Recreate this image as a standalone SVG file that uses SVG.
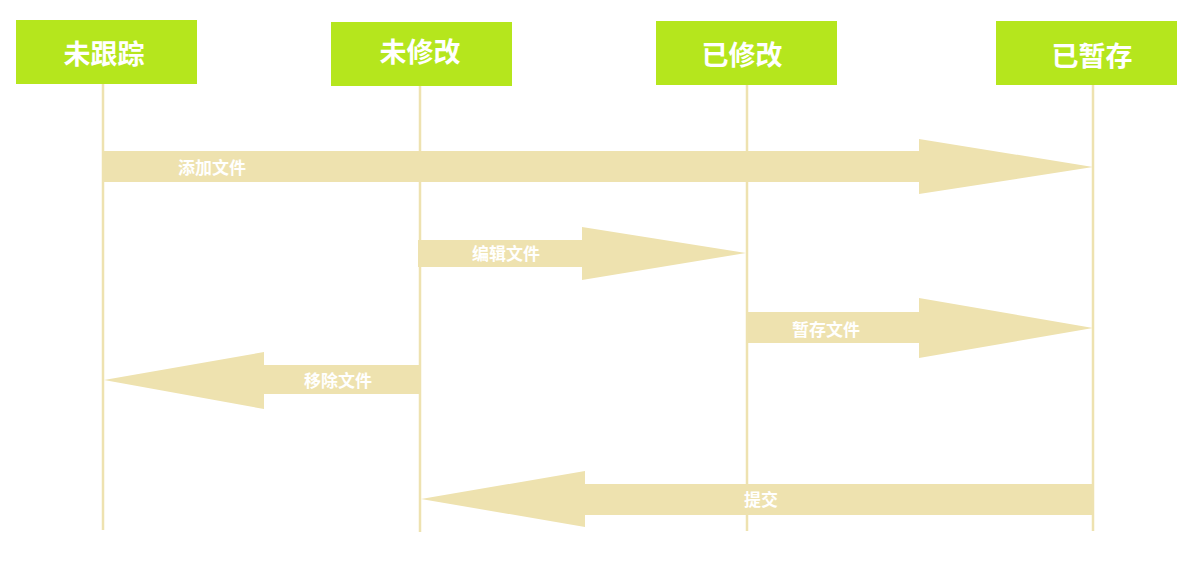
<svg xmlns="http://www.w3.org/2000/svg" width="1200" height="578" viewBox="0 0 1200 578">
<style>
.box{fill:#B5E61D}
.htxt{font-family:"Noto Sans CJK SC","Noto Sans",sans-serif;font-size:27px;font-weight:bold;fill:#FFFFFF;text-anchor:middle;dominant-baseline:central}
.life{stroke:#EEE2B0;stroke-width:2.5;fill:none}
.arr{fill:#EEE2AF}
.ltxt{font-family:"Noto Sans CJK SC","Noto Sans",sans-serif;font-size:17px;font-weight:bold;fill:#FFFFFF;text-anchor:middle;dominant-baseline:central}
</style>
<rect width="1200" height="578" fill="#FFFFFF"/>
<g id="lifelines">
<line class="life" x1="103" y1="84" x2="103" y2="530"/>
<line class="life" x1="420" y1="86" x2="420" y2="532"/>
<line class="life" x1="747" y1="85" x2="747" y2="531"/>
<line class="life" x1="1093" y1="85" x2="1093" y2="531"/>
</g>
<g id="node-untracked">
<rect class="box" x="16" y="20" width="181" height="64"/>
<text class="htxt" x="104" y="52">未跟踪</text>
</g>
<g id="node-unmodified">
<rect class="box" x="331" y="22" width="181" height="64"/>
<text class="htxt" x="420" y="50">未修改</text>
</g>
<g id="node-modified">
<rect class="box" x="656" y="21" width="181" height="64"/>
<text class="htxt" x="742" y="53">已修改</text>
</g>
<g id="node-staged">
<rect class="box" x="996" y="21" width="181" height="64"/>
<text class="htxt" x="1092" y="54">已暂存</text>
</g>
<g id="connectors">
<g id="c-add">
<polygon class="arr" points="103,151 919,151 919,139 1093,167 919,194 919,182 103,182"/>
<text class="ltxt" x="212" y="166">添加文件</text>
</g>
<g id="c-edit">
<polygon class="arr" points="418,240 582,240 582,227 746,253 582,280 582,267 418,267"/>
<text class="ltxt" x="506" y="252">编辑文件</text>
</g>
<g id="c-stage">
<polygon class="arr" points="746,312 919,312 919,298 1093,328 919,358 919,343 746,343"/>
<text class="ltxt" x="826" y="328">暂存文件</text>
</g>
<g id="c-remove">
<polygon class="arr" points="420,365 264,365 264,352 104,380 264,409 264,394 420,394"/>
<text class="ltxt" x="338" y="379">移除文件</text>
</g>
<g id="c-commit">
<polygon class="arr" points="1093,484 585,484 585,471 421,499 585,527 585,515 1093,515"/>
<text class="ltxt" x="761" y="498">提交</text>
</g>
</g>
</svg>
